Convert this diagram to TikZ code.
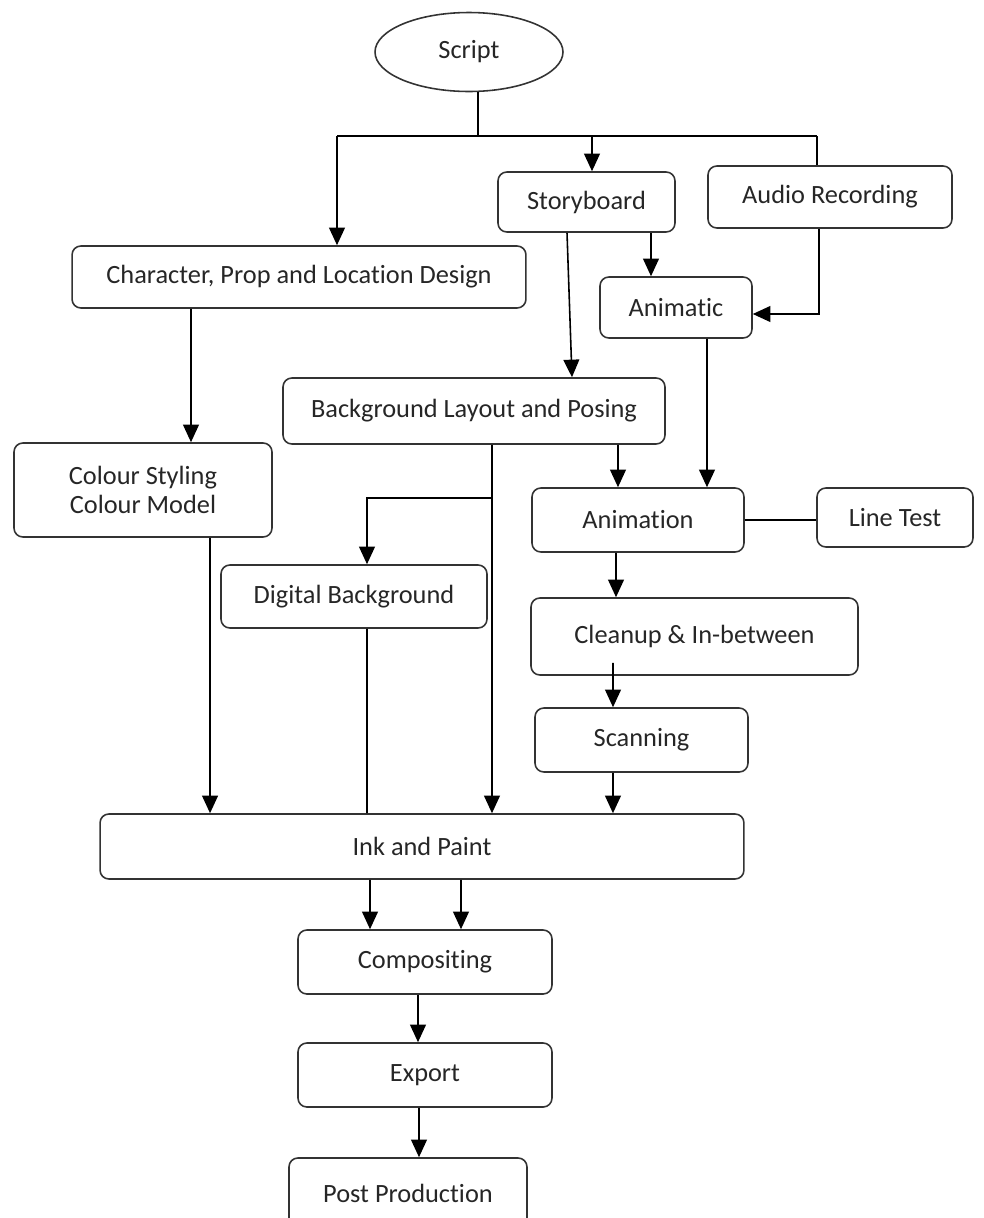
\documentclass[tikz,border=0pt]{standalone}
\usepackage{fontspec}
\setmainfont[Ligatures=NoCommon]{Carlito}
\usepackage{xcolor}
\usepackage{tikz}
\usetikzlibrary{arrows.meta,shapes.geometric}

\tikzset{
  box/.style={draw=black!80, line width=0.9pt, rounded corners=5pt, inner sep=0pt,
    align=center, text=black!85, font=\fontsize{15}{17}\selectfont},
  arr/.style={-{Triangle[width=9pt,length=10pt]}},
  line/.style={black, line width=0.9pt}
}

\begin{document}
\begin{tikzpicture}[x=0.02cm,y=-0.02cm]
    \clip (0,0) rectangle (984,1218);
    \node[box, ellipse, rounded corners=0pt, minimum width=3.76cm, minimum height=1.58cm] (script) at (469,52) {Script};
    \node[box, minimum width=3.54cm, minimum height=1.2cm] (story) at (586.5,202) {Storyboard};
    \node[box, minimum width=4.88cm, minimum height=1.24cm] (audio) at (830,197) {Audio Recording};
    \node[box, minimum width=9.08cm, minimum height=1.24cm] (cpld) at (299,277) {Character, Prop and Location Design};
    \node[box, minimum width=3.04cm, minimum height=1.22cm] (animatic) at (676,307.5) {Animatic};
    \node[box, minimum width=7.64cm, minimum height=1.32cm] (blp) at (474,411) {Background Layout and Posing};
    \node[box, minimum width=5.16cm, minimum height=1.88cm] (colour) at (143,490) {Colour Styling\\Colour Model};
    \node[box, minimum width=4.24cm, minimum height=1.28cm] (animation) at (638,520) {Animation};
    \node[box, minimum width=3.12cm, minimum height=1.18cm] (linetest) at (895,517.5) {Line Test};
    \node[box, minimum width=5.32cm, minimum height=1.26cm] (digital) at (354,596.5) {Digital Background};
    \node[box, minimum width=6.54cm, minimum height=1.54cm] (cleanup) at (694.5,636.5) {Cleanup \& In-between};
    \node[box, minimum width=4.26cm, minimum height=1.28cm] (scanning) at (641.5,740) {Scanning};
    \node[box, minimum width=12.88cm, minimum height=1.3cm] (ink) at (422,846.5) {Ink and Paint};
    \node[box, minimum width=5.08cm, minimum height=1.28cm] (comp) at (425,962) {Compositing};
    \node[box, minimum width=5.08cm, minimum height=1.28cm] (export) at (425,1075) {Export};
    \node[box, minimum width=4.76cm, minimum height=1.4cm] (post) at (408,1193) {Post Production};

    % split under the script
    \coordinate (s0) at (478,136);
    \coordinate (s1) at (337,136);
    \coordinate (s2) at (592,136);
    \coordinate (s3) at (817,136);
    \coordinate (b1) at (492,498);

    \begin{scope}[line]
    \draw (script.south -| s0) -- (s0);
    \draw (s1) -- (s3);
    \draw[arr] (s1) -- (cpld.north -| s1);
    \draw[arr] (s2) -- (story.north -| s2);
    \draw (s3) -- (audio.north -| s3);
    \draw[arr] ([xshift=-0.5cm]animatic.north |- story.south) -- ([xshift=-0.5cm]animatic.north);
    \draw[arr] ([xshift=-0.22cm]audio.south) |- ([yshift=-0.13cm]animatic.east);
    \draw[arr] ([xshift=-0.39cm]story.south) -- ([xshift=1.96cm]blp.north);
    \draw[arr] ([xshift=-2.16cm]cpld.south) -- ([xshift=0.96cm]colour.north);
    \draw[arr] ([xshift=0.62cm]animatic.south) -- ([xshift=1.38cm]animation.north);
    \draw[arr] ([xshift=2.88cm]blp.south) -- ([xshift=-0.4cm]animation.north);
    \draw[arr] ([xshift=0.36cm]blp.south) -- ([xshift=1.4cm]ink.north);
    \draw[arr] (b1) -| ([xshift=0.26cm]digital.north);
    \draw (animation.east) -- (animation.east -| linetest.west);
    \draw[arr] ([xshift=1.34cm]colour.south) -- ([xshift=-4.24cm]ink.north);
    \draw ([xshift=0.26cm]digital.south) -- ([xshift=-1.1cm]ink.north);
    \draw[arr] ([xshift=-0.44cm]animation.south) -- ([xshift=-1.57cm]cleanup.north);
    \draw[arr] ([xshift=-1.63cm,yshift=0.26cm]cleanup.south) -- ([xshift=-0.57cm]scanning.north);
    \draw[arr] ([xshift=-0.57cm]scanning.south) -- ([xshift=3.82cm]ink.north);
    \draw[arr] ([xshift=-1.04cm]ink.south) -- ([xshift=-1.1cm]comp.north);
    \draw[arr] ([xshift=0.78cm]ink.south) -- ([xshift=0.72cm]comp.north);
    \draw[arr] ([xshift=-0.14cm]comp.south) -- ([xshift=-0.14cm]export.north);
    \draw[arr] ([xshift=-0.12cm]export.south) -- ([xshift=0.22cm]post.north);
    \end{scope}
  \end{tikzpicture}
\end{document}
